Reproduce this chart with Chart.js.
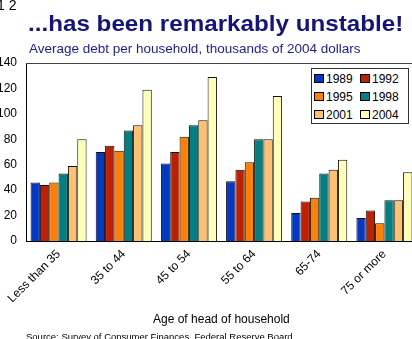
<!DOCTYPE html>
<html><head><meta charset="utf-8">
<script src="https://cdn.jsdelivr.net/npm/chart.js@4/dist/chart.umd.min.js"></script>
<style>
html,body{margin:0;padding:0;width:412px;height:339px;overflow:hidden;background:#fff;font-family:"Liberation Sans",Arial,sans-serif;}
#wrap{position:absolute;left:0;top:0;width:420px;height:339px;}
.t{position:absolute;white-space:nowrap;}
#legend{position:absolute;left:311px;top:68px;width:96px;height:54px;border:1px solid #333;background:#fff;}
.li{position:absolute;font-size:12px;line-height:12px;color:#000;}
.sw{display:inline-block;width:8px;height:7px;border:1px solid #000;margin-right:2px;vertical-align:0px;}
</style></head><body>
<div id="wrap"><canvas id="c" width="420" height="339"></canvas></div>
<div class="t" style="left:-3px;top:-2px;font-size:14px;line-height:14px;color:#000;">1 2</div>
<div class="t" style="left:28px;top:13px;font-size:22px;line-height:22px;font-weight:bold;color:#14147e;transform:scaleX(1.1);transform-origin:0 0;">...has been remarkably unstable!</div>
<div class="t" style="left:29px;top:42px;font-size:13.5px;line-height:13px;color:#1c1c9c;">Average debt per household, thousands of 2004 dollars</div>
<div class="t" style="left:153px;top:313px;font-size:12px;line-height:12px;color:#000;">Age of head of household</div>
<div class="t" style="left:26px;top:332px;font-size:9.5px;line-height:9.5px;color:#000;">Source: Survey of Consumer Finances, Federal Reserve Board</div>
<div id="legend"></div>
<script>
const categories = ["Less than 35", "35 to 44", "45 to 54", "55 to 64", "65-74", "75 or more"];
const years = ["1989", "1992", "1995", "1998", "2001", "2004"];
const v1989 = [46, 70, 61, 47, 22, 18];
const v1992 = [44, 75, 70, 56, 31, 24];
const v1995 = [46, 71, 82, 62, 34, 14];
const v1998 = [53, 87, 91, 80, 53, 32];
const v2001 = [59, 91, 95, 80, 56, 32];
const v2004 = [80, 119, 129, 114, 64, 54];
const yTicks = [0, 20, 40, 60, 80, 100, 120, 140];
const colors = ["#0038c8", "#c02000", "#ff7f00", "#008080", "#ffc070", "#ffffb8"];
const series = [v1989, v1992, v1995, v1998, v2001, v2004];

const frame = {
  id: 'frame',
  afterDatasetsDraw(chart) {
    const a = chart.chartArea, ctx = chart.ctx;
    ctx.save();
    ctx.strokeStyle = '#444';
    ctx.lineWidth = 1;
    ctx.beginPath();
    ctx.moveTo(a.left, a.top + 0.5);
    ctx.lineTo(a.right, a.top + 0.5);
    ctx.stroke();
    ctx.restore();
  }
};

new Chart(document.getElementById('c'), {
  type: 'bar',
  data: {
    labels: categories,
    datasets: years.map((y, i) => ({
      label: y,
      data: series[i],
      backgroundColor: colors[i],
      borderColor: '#111',
      borderWidth: 1,
      categoryPercentage: 0.86,
      barPercentage: 1.0
    }))
  },
  options: {
    responsive: false,
    animation: false,
    devicePixelRatio: 1,
    layout: { padding: { top: 63, right: 3, bottom: 0, left: 0 } },
    plugins: { legend: { display: false }, title: { display: false }, tooltip: { enabled: false } },
    scales: {
      x: {
        grid: { display: false, drawTicks: false },
        border: { display: true, color: '#000', width: 1 },
        ticks: { color: '#000', font: { family: 'Liberation Sans', size: 12 }, minRotation: 45, maxRotation: 45, padding: 6, autoSkip: false },
        afterFit(s) { s.height = 98; }
      },
      y: {
        min: 0, max: 140,
        afterBuildTicks(s) { s.ticks = yTicks.map(v => ({ value: v })); },
        grid: { display: false, drawTicks: false },
        border: { display: true, color: '#000', width: 1 },
        ticks: { color: '#000', font: { family: 'Liberation Sans', size: 12 }, padding: 9 },
        afterFit(s) { s.width = 26; }
      }
    }
  },
  plugins: [frame]
});

const lg = document.getElementById('legend');
years.forEach((y, i) => {
  const d = document.createElement('div');
  d.className = 'li';
  d.style.left = (i % 2 === 0 ? 2 : 48) + 'px';
  d.style.top = (4 + Math.floor(i / 2) * 18) + 'px';
  d.innerHTML = '<span class="sw" style="background:' + colors[i] + '"></span>' + y;
  lg.appendChild(d);
});
</script>
</body></html>
